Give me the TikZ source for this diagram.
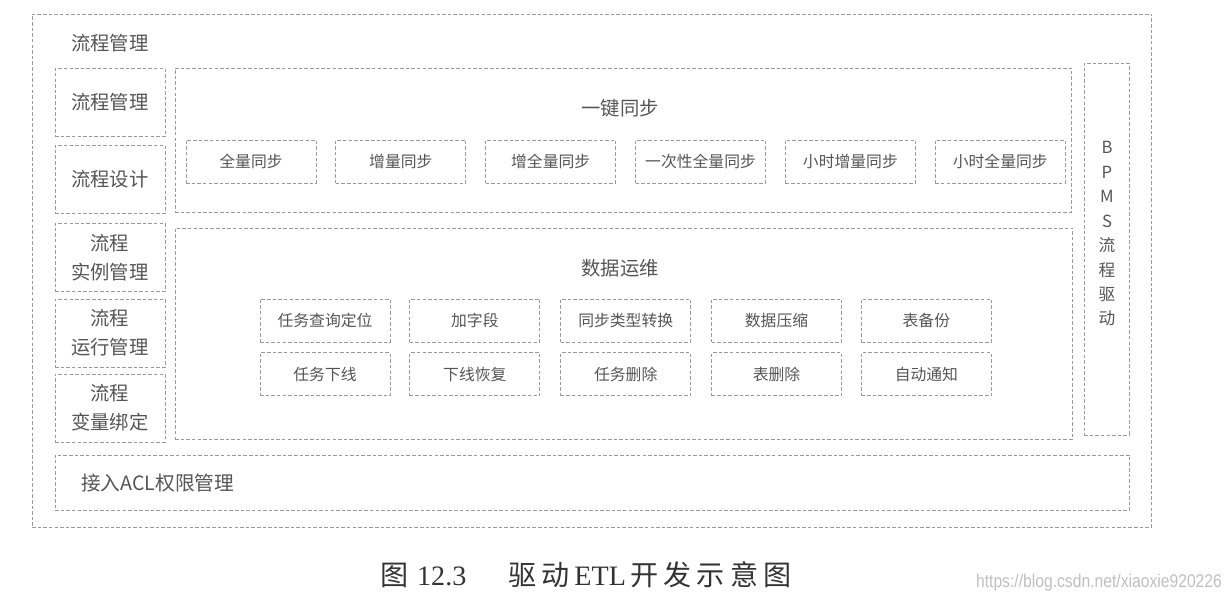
\documentclass[tikz,border=0pt]{standalone}
\usepackage{fontspec}
\usepackage{tikz}
\usetikzlibrary{positioning}
\newfontfamily\cjk{Noto Sans CJK SC}
\newfontfamily\capcjk[LetterSpace=18]{Noto Sans CJK SC}
\newfontfamily\capserif{Liberation Serif}
\newfontfamily\wmark{Liberation Sans}
\definecolor{ink}{HTML}{555555}
\definecolor{rule}{HTML}{9A9A9A}

\begin{document}
\begin{tikzpicture}[x=0.02cm,y=-0.02cm,
  grp/.style={draw=rule,dash pattern=on 2pt off 1.2pt,line width=0.5pt,inner sep=0pt},
  side/.style={grp,minimum width=2.2cm,minimum height=1.36cm,align=center,
    font=\cjk\fontsize{11}{16.5}\selectfont,text=ink},
  sub/.style={grp,minimum width=2.6cm,minimum height=0.86cm,
    font=\cjk\fontsize{9}{11}\selectfont,text=ink},
  ttl/.style={font=\cjk\fontsize{11}{13}\selectfont,text=ink}]
\useasboundingbox (0,0) rectangle (1232,602);
% outer frame
\node[grp,minimum width=22.4cm,minimum height=10.26cm] (all) at (592,270.5) {};
\node[ttl] (allttl) at (110,43) {流程管理};
% left column
\node[side] (mgmt) at (110,102.5) {流程管理};
\node[side,below=0.16cm of mgmt] (design) {流程设计};
\node[side,below=0.18cm of design] (inst) {流程\\实例管理};
\node[side,below=0.14cm of inst] (run) {流程\\运行管理};
\node[side,below=0.12cm of run] (var) {流程\\变量绑定};
% one-click sync
\node[grp,minimum width=17.94cm,minimum height=2.88cm] (sync) at (623.5,140) {};
\node[ttl] (syncttl) at (620,108) {一键同步};
\node[sub] (s1) at (251,161.5) {全量同步};
\node[sub,right=0.38cm of s1] (s2) {增量同步};
\node[sub,right=0.38cm of s2] (s3) {增全量同步};
\node[sub,right=0.38cm of s3] (s4) {一次性全量同步};
\node[sub,right=0.38cm of s4] (s5) {小时增量同步};
\node[sub,right=0.38cm of s5] (s6) {小时全量同步};
% data operations
\node[grp,minimum width=17.96cm,minimum height=4.22cm] (ops) at (624,333.5) {};
\node[ttl] (opsttl) at (620,268) {数据运维};
\node[sub] (o1) at (325,320.5) {任务查询定位};
\node[sub,right=0.38cm of o1] (o2) {加字段};
\node[sub,right=0.4cm of o2] (o3) {同步类型转换};
\node[sub,right=0.4cm of o3] (o4) {数据压缩};
\node[sub,right=0.38cm of o4] (o5) {表备份};
\node[sub,below=0.2cm of o1] (o6) {任务下线};
\node[sub,below=0.2cm of o2] (o7) {下线恢复};
\node[sub,below=0.2cm of o3] (o8) {任务删除};
\node[sub,below=0.2cm of o4] (o9) {表删除};
\node[sub,below=0.2cm of o5] (o10) {自动通知};
% BPMS driver
\node[grp,minimum width=0.9cm,minimum height=7.44cm] (bpms) at (1106.5,249) {};
\node[align=center,font=\cjk\fontsize{9.5}{13.9}\selectfont,text=ink] (bpmsttl) at (1107,234)
  {B\\P\\M\\S\\流\\程\\驱\\动};
% ACL
\node[grp,minimum width=21.5cm,minimum height=1.1cm] (acl) at (592.5,482.5) {};
\node[ttl,anchor=west,font=\cjk\fontsize{11.2}{13}\selectfont] (aclttl) at (75,483) {接入ACL权限管理};
% caption
\node[font=\fontsize{16}{18}\selectfont,text=black!80] (cap) at (586,575)
  {{\capcjk 图}~{\capserif 12.3}\quad\enspace{\capcjk 驱动}\,{\capserif ETL}\,{\capcjk 开发示意图}};
\node[font=\wmark\fontsize{10.5}{12}\selectfont,text=black!25,xscale=0.85] (wm) at (1099,583)
  {https://blog.csdn.net/xiaoxie920226};
\end{tikzpicture}
\end{document}
